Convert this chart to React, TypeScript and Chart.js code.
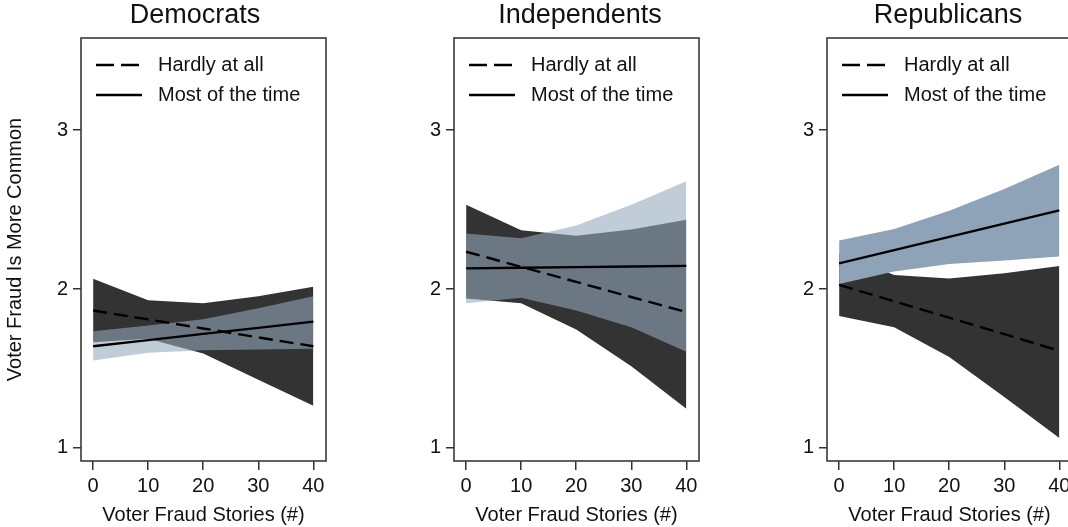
import React, { useEffect, useRef } from "react";
import { Chart, registerables } from "chart.js";

Chart.register(...registerables);

// ---------- data ----------
const PANEL_TITLES = ["Democrats", "Independents", "Republicans"];
const X_VALUES = [0, 10, 20, 30, 40];
const X_TICKS = [0, 10, 20, 30, 40];
const Y_TICKS = [1, 2, 3];
const LEGEND_LABELS = ["Hardly at all", "Most of the time"];
const Y_TITLE = "Voter Fraud Is More Common";
const X_TITLE = "Voter Fraud Stories (#)";

// Democrats
const DEM_HARDLY_MEAN = [1.865, 1.809, 1.752, 1.696, 1.64];
const DEM_HARDLY_UPPER = [2.065, 1.93, 1.91, 1.955, 2.015];
const DEM_HARDLY_LOWER = [1.665, 1.688, 1.595, 1.43, 1.265];
const DEM_MOST_MEAN = [1.64, 1.679, 1.718, 1.756, 1.795];
const DEM_MOST_UPPER = [1.735, 1.77, 1.81, 1.88, 1.955];
const DEM_MOST_LOWER = [1.55, 1.6, 1.615, 1.62, 1.625];

// Independents
const IND_HARDLY_MEAN = [2.235, 2.14, 2.045, 1.95, 1.855];
const IND_HARDLY_UPPER = [2.53, 2.37, 2.335, 2.375, 2.437];
const IND_HARDLY_LOWER = [1.94, 1.91, 1.745, 1.515, 1.247];
const IND_MOST_MEAN = [2.13, 2.134, 2.138, 2.142, 2.146];
const IND_MOST_UPPER = [2.35, 2.32, 2.4, 2.53, 2.678];
const IND_MOST_LOWER = [1.91, 1.945, 1.865, 1.76, 1.605];

// Republicans
const REP_HARDLY_MEAN = [2.027, 1.923, 1.82, 1.716, 1.612];
const REP_HARDLY_UPPER = [2.224, 2.088, 2.067, 2.1, 2.145];
const REP_HARDLY_LOWER = [1.83, 1.76, 1.572, 1.32, 1.063];
const REP_MOST_MEAN = [2.162, 2.245, 2.328, 2.412, 2.495];
const REP_MOST_UPPER = [2.305, 2.378, 2.493, 2.63, 2.783];
const REP_MOST_LOWER = [2.032, 2.11, 2.158, 2.179, 2.205];

const PANEL_DATA = [
  { hm: DEM_HARDLY_MEAN, hu: DEM_HARDLY_UPPER, hl: DEM_HARDLY_LOWER, mm: DEM_MOST_MEAN, mu: DEM_MOST_UPPER, ml: DEM_MOST_LOWER },
  { hm: IND_HARDLY_MEAN, hu: IND_HARDLY_UPPER, hl: IND_HARDLY_LOWER, mm: IND_MOST_MEAN, mu: IND_MOST_UPPER, ml: IND_MOST_LOWER },
  { hm: REP_HARDLY_MEAN, hu: REP_HARDLY_UPPER, hl: REP_HARDLY_LOWER, mm: REP_MOST_MEAN, mu: REP_MOST_UPPER, ml: REP_MOST_LOWER },
];

// ---------- layout / style ----------
const W = 1068;
const H = 527;
const LAYOUT = [
  { left: 0, width: 390, yWidth: 81, rightPad: 64, yTitle: true, mostFill: "rgba(147,168,188,0.585)" },
  { left: 390, width: 380, yWidth: 64, rightPad: 71, yTitle: false, mostFill: "rgba(147,168,188,0.585)" },
  { left: 770, width: 356, yWidth: 57, rightPad: 54, yTitle: false, mostFill: "rgb(143,163,184)" },
];
const FONT = "'Liberation Sans', Arial, Helvetica, sans-serif";
const DARK = "#333333";
const TEXT = "#111111";

const pts = (ys: number[]) => X_VALUES.map((x, i) => ({ x, y: ys[i] }));

const boxAndLegend = {
  id: "boxAndLegend",
  afterDatasetsDraw(chart: any, _args: any, opts: any) {
    const { ctx, chartArea } = chart;
    const { left, top, right, bottom } = chartArea;
    ctx.save();
    ctx.strokeStyle = "#3a3a3a";
    ctx.lineWidth = 1.6;
    ctx.setLineDash([]);
    ctx.strokeRect(left, top, right - left, bottom - top);

    // panel title
    ctx.fillStyle = TEXT;
    ctx.font = `27px ${FONT}`;
    ctx.textAlign = "center";
    ctx.textBaseline = "middle";
    ctx.fillText(opts.title, chart.width / 2, 16);

    // legend
    ctx.strokeStyle = "#000";
    ctx.lineWidth = 2.4;
    const rows = [top + 27, top + 57];
    ctx.beginPath();
    ctx.setLineDash([18, 7]);
    ctx.moveTo(left + 15, rows[0]);
    ctx.lineTo(left + 59, rows[0]);
    ctx.stroke();
    ctx.beginPath();
    ctx.setLineDash([]);
    ctx.moveTo(left + 15, rows[1]);
    ctx.lineTo(left + 61, rows[1]);
    ctx.stroke();
    ctx.font = `20px ${FONT}`;
    ctx.textAlign = "left";
    ctx.fillText(LEGEND_LABELS[0], left + 77, rows[0]);
    ctx.fillText(LEGEND_LABELS[1], left + 77, rows[1]);
    ctx.restore();
  },
};

function Panel({ idx }: { idx: number }) {
  const ref = useRef<HTMLCanvasElement | null>(null);
  const lay = LAYOUT[idx];
  useEffect(() => {
    if (!ref.current) return;
    const d = PANEL_DATA[idx];
    const band = { borderWidth: 0, borderColor: "rgba(0,0,0,0)", pointRadius: 0, tension: 0 };
    const chart = new Chart(ref.current, {
      type: "line",
      data: {
        datasets: [
          { ...band, label: "hu", data: pts(d.hu), fill: "+1", backgroundColor: DARK, order: 3 },
          { ...band, label: "hl", data: pts(d.hl), fill: false, order: 3 },
          { ...band, label: "mu", data: pts(d.mu), fill: "+1", backgroundColor: lay.mostFill, order: 2 },
          { ...band, label: "ml", data: pts(d.ml), fill: false, order: 2 },
          { label: LEGEND_LABELS[0], data: pts(d.hm), borderColor: "#000", borderWidth: 2.4, borderDash: [14, 7], pointRadius: 0, fill: false, order: 1 },
          { label: LEGEND_LABELS[1], data: pts(d.mm), borderColor: "#000", borderWidth: 2.4, pointRadius: 0, fill: false, order: 0 },
        ],
      } as any,
      options: {
        responsive: false,
        animation: false,
        layout: { padding: { left: 0, right: lay.rightPad, top: 38, bottom: 0 } },
        plugins: {
          legend: { display: false },
          tooltip: { enabled: false },
          title: { display: false },
          boxAndLegend: { title: PANEL_TITLES[idx] },
        },
        scales: {
          x: {
            type: "linear",
            min: -2.2,
            max: 42.3,
            afterBuildTicks: (s: any) => { s.ticks = X_TICKS.map((v) => ({ value: v })); },
            afterFit: (s: any) => { s.height = H - 461; },
            ticks: { color: TEXT, font: { family: FONT, size: 20 }, padding: 4, maxRotation: 0, autoSkip: false },
            grid: { drawOnChartArea: false, drawTicks: true, tickLength: 9, color: "#333", lineWidth: 1.5 },
            border: { display: false },
            title: { display: true, text: X_TITLE, color: TEXT, font: { family: FONT, size: 20 }, padding: { top: 0, bottom: 0 } },
          },
          y: {
            type: "linear",
            min: 0.918,
            max: 3.58,
            afterBuildTicks: (s: any) => { s.ticks = Y_TICKS.map((v) => ({ value: v })); },
            afterFit: (s: any) => { s.width = lay.yWidth; },
            ticks: { color: TEXT, font: { family: FONT, size: 20 }, padding: 5 },
            grid: { drawOnChartArea: false, drawTicks: true, tickLength: 8, color: "#333", lineWidth: 1.5 },
            border: { display: false },
            title: { display: lay.yTitle, text: Y_TITLE, color: TEXT, font: { family: FONT, size: 20 }, padding: { top: 3, bottom: 0 } },
          },
        },
      } as any,
      plugins: [boxAndLegend],
    });
    return () => chart.destroy();
  }, [idx]);
  return (
    <div style={{ position: "absolute", left: lay.left, top: 0, width: lay.width, height: H }}>
      <canvas ref={ref} width={lay.width} height={H} style={{ display: "block" }} />
    </div>
  );
}

export default function App() {
  return (
    <div style={{ position: "fixed", left: 0, top: 0, width: W, height: H, overflow: "hidden", background: "#fff" }}>
      {LAYOUT.map((_, i) => (
        <Panel key={i} idx={i} />
      ))}
    </div>
  );
}
